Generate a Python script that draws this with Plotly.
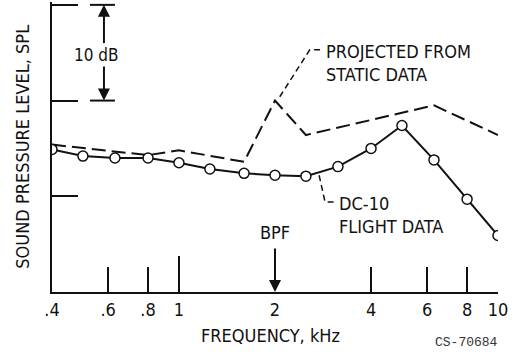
import math
import plotly.graph_objects as go

# One-third-octave band centre frequencies, kHz
freq_flight = [0.4, 0.5, 0.63, 0.8, 1.0, 1.25, 1.6, 2.0, 2.5, 3.15, 4.0, 5.0, 6.3, 8.0, 10.0]
# DC-10 flight data, relative SPL (dB)
spl_flight = [14.9, 14.2, 14.0, 14.0, 13.5, 12.85, 12.4, 12.2, 12.1, 13.1, 15.0, 17.4, 13.8, 9.7, 5.9]

# Projected from static data, relative SPL (dB)
freq_static = [0.4, 0.8, 1.0, 1.6, 2.0, 2.5, 6.3, 10.0]
spl_static = [15.4, 14.3, 14.8, 13.6, 20.0, 16.4, 19.5, 16.4]

tick_vals = [0.4, 0.6, 0.8, 1, 2, 4, 6, 8, 10]
tick_text = [".4", ".6", ".8", "1", "2", "4", "6", "8", "10"]
minor_tick_vals = [0.6, 0.8, 4, 6, 8]
major_tick_vals = [1, 10]
spl_tick_vals = [10, 20, 30]

BPF_KHZ = 2.0

FONT = "DejaVu Sans Condensed, Liberation Sans Narrow, DejaVu Sans"
INK = "#111111"


def lx(f):
    """Annotation position on the log frequency axis."""
    return math.log10(f)


fig = go.Figure()

fig.add_trace(go.Scatter(
    x=freq_static, y=spl_static, mode="lines",
    line=dict(color=INK, width=2, dash="14px,6px"),
    showlegend=False, hoverinfo="skip",
))
fig.add_trace(go.Scatter(
    x=freq_flight, y=spl_flight, mode="lines+markers",
    line=dict(color=INK, width=2),
    marker=dict(symbol="circle", size=10, color="white", line=dict(color=INK, width=1.5)),
    showlegend=False, hoverinfo="skip",
))
# carrier trace for the overlay axis with the long decade ticks
fig.add_trace(go.Scatter(
    x=[1, 10], y=[0, 0], xaxis="x2", mode="lines",
    line=dict(width=0), opacity=0, showlegend=False, hoverinfo="skip",
))

# leader lines to the curve labels
fig.add_trace(go.Scatter(
    x=[2.07, 2.57, 2.81], y=[20.4, 25.3, 25.3], mode="lines",
    line=dict(color=INK, width=1.5, dash="6px,4px"), showlegend=False, hoverinfo="skip",
))
fig.add_trace(go.Scatter(
    x=[2.75, 2.87, 3.12], y=[12.2, 9.4, 9.4], mode="lines",
    line=dict(color=INK, width=1.5, dash="6px,4px"), showlegend=False, hoverinfo="skip",
))

x_range = [math.log10(0.4), 1.0]

fig.update_layout(
    width=523, height=356,
    margin=dict(l=52, r=25, t=2, b=64),
    paper_bgcolor="white", plot_bgcolor="white",
    font=dict(family=FONT, size=18, color=INK),
    xaxis=dict(
        type="log", range=x_range,
        tickvals=tick_vals, ticktext=tick_text,
        ticks="", showgrid=False, zeroline=False,
        showline=True, linecolor=INK, linewidth=2,
        tickfont=dict(size=18),
        minor=dict(tickvals=minor_tick_vals, ticks="inside", ticklen=25,
                   tickwidth=2, tickcolor=INK, showgrid=False),
    ),
    xaxis2=dict(
        type="log", range=x_range, overlaying="x", anchor="y",
        tickvals=major_tick_vals, ticks="inside", ticklen=36,
        tickwidth=2, tickcolor=INK, showticklabels=False,
        showgrid=False, zeroline=False, showline=False,
    ),
    yaxis=dict(
        range=[0, 30.3], tickvals=spl_tick_vals, ticks="inside", ticklen=26,
        tickwidth=2, tickcolor=INK, showticklabels=False,
        showgrid=False, zeroline=False,
        showline=True, linecolor=INK, linewidth=2,
    ),
)

# 10 dB scale bracket
for y0 in (20, 30):
    fig.add_shape(type="line", xref="x", yref="y", x0=0.526, x1=0.63, y0=y0, y1=y0,
                  line=dict(color=INK, width=2))
fig.add_annotation(x=lx(0.582), y=30, xref="x", yref="y", ax=0, ay=40, axref="pixel", ayref="pixel",
                   text="", showarrow=True, arrowhead=2, arrowsize=1.2, arrowwidth=2, arrowcolor=INK)
fig.add_annotation(x=lx(0.582), y=20, xref="x", yref="y", ax=0, ay=-36, axref="pixel", ayref="pixel",
                   text="", showarrow=True, arrowhead=2, arrowsize=1.2, arrowwidth=2, arrowcolor=INK)
fig.add_annotation(x=lx(0.552), y=24.8, xref="x", yref="y", text="10 dB", showarrow=False,
                   font=dict(size=17), bgcolor="white", xanchor="center", yanchor="middle")

fig.add_annotation(x=lx(2.85), y=25.3, xref="x", yref="y", xanchor="left", yanchor="top",
                   text="PROJECTED FROM<br>STATIC DATA", showarrow=False, align="left",
                   font=dict(size=18), yshift=11)
fig.add_annotation(x=lx(3.13), y=9.4, xref="x", yref="y", xanchor="left", yanchor="top",
                   text="DC-10<br>FLIGHT DATA", showarrow=False, align="left",
                   font=dict(size=18), yshift=11)

# blade passing frequency marker
fig.add_annotation(x=lx(BPF_KHZ), y=0, xref="x", yref="y", ax=0, ay=-45, axref="pixel", ayref="pixel",
                   text="", showarrow=True, arrowhead=2, arrowsize=1.2, arrowwidth=2, arrowcolor=INK)
fig.add_annotation(x=lx(BPF_KHZ), y=6.2, xref="x", yref="y", text="BPF", showarrow=False,
                   font=dict(size=18), xanchor="center", yanchor="middle")

# axis titles
fig.add_annotation(x=-0.068, y=0.5, xref="paper", yref="paper", text="SOUND PRESSURE LEVEL, SPL",
                   textangle=-90, showarrow=False, font=dict(size=18),
                   xanchor="center", yanchor="middle")
fig.add_annotation(x=0.491, y=-0.15, xref="paper", yref="paper", text="FREQUENCY, kHz",
                   showarrow=False, font=dict(size=18), xanchor="center", yanchor="middle")
fig.add_annotation(x=1.005, y=-0.174, xref="paper", yref="paper", xanchor="right", yanchor="middle",
                   text="CS-70684", showarrow=False,
                   font=dict(family="Liberation Mono, DejaVu Sans Mono", size=13, color="#333333"))

fig.write_html("out.html")
